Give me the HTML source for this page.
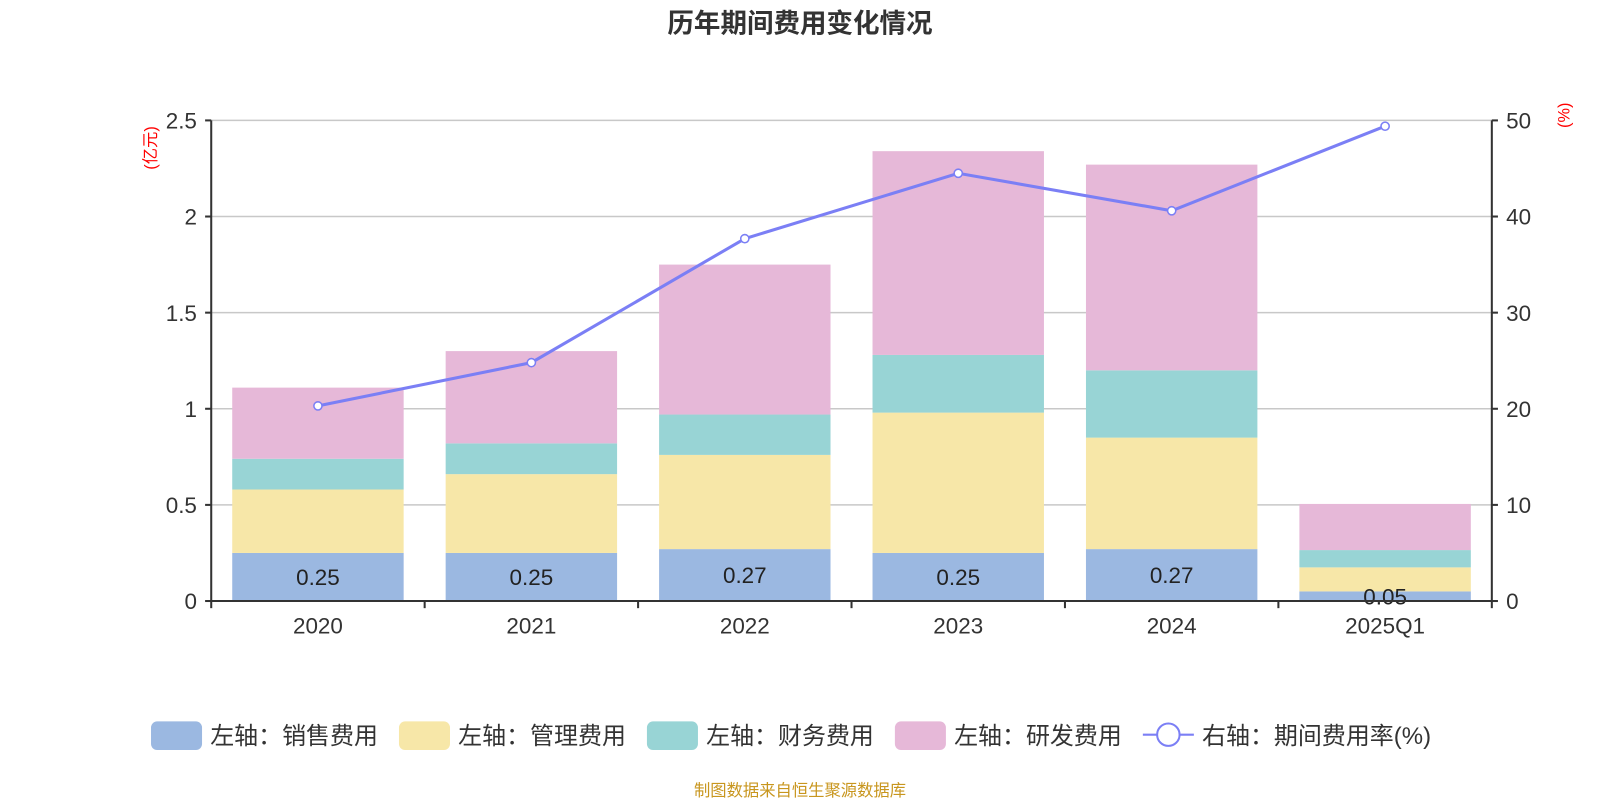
<!DOCTYPE html>
<html><head><meta charset="utf-8"><style>
body{margin:0;background:#fff;}
svg text{font-family:"Liberation Sans","Noto Sans CJK SC",sans-serif;}
</style></head><body>
<svg id="c" width="1600" height="800" xmlns="http://www.w3.org/2000/svg">
<g transform="scale(1.0204)">
<text x="784" y="32" text-anchor="middle" font-size="26" font-weight="bold" fill="#333">历年期间费用变化情况</text>
<text transform="translate(153,145) rotate(-90)" text-anchor="middle" font-size="16" fill="red">(亿元)</text>
<text transform="translate(1538,113) rotate(-90)" text-anchor="middle" font-size="16" fill="red">(%)</text>
<g id="grid"></g><g id="bars"></g><g id="axes"></g><g id="line"></g>
<g id="legend" font-size="23.5" fill="#333"></g>
<text x="784" y="780" text-anchor="middle" font-size="16" fill="#c8961e">制图数据来自恒生聚源数据库</text>
</g>
</svg>
<script>
const categories=["2020","2021","2022","2023","2024","2025Q1"];
const sales=[0.25,0.25,0.27,0.25,0.27,0.05];
const mgmt=[0.33,0.41,0.49,0.73,0.58,0.125];
const fin=[0.16,0.16,0.21,0.30,0.35,0.09];
const rd=[0.37,0.48,0.78,1.06,1.07,0.24];
const rate=[20.3,24.8,37.7,44.5,40.6,49.4];
const leftTicks=["0","0.5","1","1.5","2","2.5"];
const rightTicks=["0","10","20","30","40","50"];
const seriesNames=["左轴：销售费用","左轴：管理费用","左轴：财务费用","左轴：研发费用"];
const colors=["#9bb8e1","#f7e7a8","#98d4d5","#e6b8d8"];
const NS="http://www.w3.org/2000/svg";
const X0=207,X1=1462,Y0=589,Y1=118;
const band=(X1-X0)/categories.length;
const xc=i=>X0+band*(i+0.5);
const yl=v=>Y0-(Y0-Y1)*v/2.5;
const yr=v=>Y0-(Y0-Y1)*v/50;
function mk(t,a,p){const e=document.createElementNS(NS,t);for(const k in a)e.setAttribute(k,a[k]);document.getElementById(p).appendChild(e);return e;}
leftTicks.forEach((t,i)=>{const v=parseFloat(t);const y=yl(v);
 if(i>0){const g=mk("line",{x1:X0,x2:X1,y1:y,y2:y,stroke:"#c8c8c8","stroke-width":1.5},"grid");}
 mk("line",{x1:X0-6,x2:X0,y1:y,y2:y,stroke:"#333","stroke-width":2},"axes");
 const tx=mk("text",{x:X0-14,y:y+8,"text-anchor":"end","font-size":22,fill:"#333"},"axes");tx.textContent=t;
 });
rightTicks.forEach(t=>{const y=yr(parseFloat(t));
 mk("line",{x1:X1,x2:X1+6,y1:y,y2:y,stroke:"#333","stroke-width":2},"axes");
 const tx=mk("text",{x:X1+14,y:y+8,"font-size":22,fill:"#333"},"axes");tx.textContent=t;
 });
mk("line",{x1:X0,x2:X0,y1:Y1,y2:Y0,stroke:"#333","stroke-width":2},"axes");
mk("line",{x1:X1,x2:X1,y1:Y1,y2:Y0,stroke:"#333","stroke-width":2},"axes");
mk("line",{x1:X0,x2:X1,y1:Y0,y2:Y0,stroke:"#333","stroke-width":2},"axes");
for(let i=0;i<=categories.length;i++){const x=X0+band*i;mk("line",{x1:x,x2:x,y1:Y0,y2:Y0+7,stroke:"#333","stroke-width":2},"axes");}
const series=[sales,mgmt,fin,rd];
categories.forEach((c,i)=>{let acc=0;const bw=168;
 series.forEach((s,k)=>{const top=yl(acc+s[i]),bot=yl(acc);
  const r=mk("rect",{x:xc(i)-bw/2,y:top,width:bw,height:bot-top,fill:colors[k]},"bars");
  
  acc+=s[i];});
 const lb=mk("text",{x:xc(i),y:(yl(sales[i])+Y0)/2+8,"text-anchor":"middle","font-size":22,fill:"#222"},"bars");
 lb.textContent=sales[i].toFixed(2);
 const tx=mk("text",{x:xc(i),y:Y0+32,"text-anchor":"middle","font-size":22,fill:"#333"},"axes");tx.textContent=c;
 });
const pl=mk("polyline",{points:rate.map((v,i)=>xc(i)+","+yr(v)).join(" "),fill:"none",stroke:"#7b7ff5","stroke-width":3},"line");

rate.forEach((v,i)=>{const p=mk("circle",{cx:xc(i),cy:yr(v),r:4,fill:"#fff",stroke:"#7b7ff5","stroke-width":1.5},"line");
 });
const lx=[148,391,634,877];
seriesNames.forEach((n,k)=>{const r=mk("rect",{x:lx[k],y:707,width:50,height:28,rx:6,fill:colors[k]},"legend");
 
 const t=mk("text",{x:lx[k]+58,y:729},"legend");t.textContent=n;});
mk("line",{x1:1120,x2:1170,y1:720,y2:720,stroke:"#7b7ff5","stroke-width":2},"legend");
mk("circle",{cx:1145,cy:720,r:11,fill:"#fff",stroke:"#7b7ff5","stroke-width":2},"legend");
const lt=mk("text",{x:1178,y:729},"legend");lt.textContent="右轴：期间费用率(%)";

</script>
</body></html>
